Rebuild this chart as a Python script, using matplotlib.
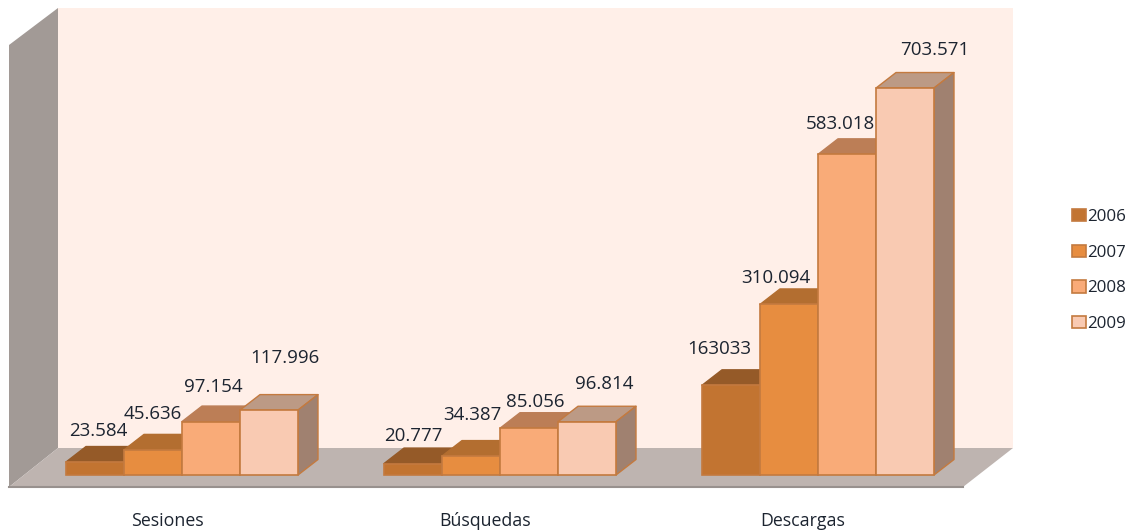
import numpy as np
import matplotlib
matplotlib.use('Agg')
import matplotlib.pyplot as plt
from matplotlib.patches import Polygon, Patch

plt.rcParams['font.family'] = ['Open Sans', 'DejaVu Sans']

categories = ['Sesiones', 'Búsquedas', 'Descargas']
years = ['2006', '2007', '2008', '2009']
v2006 = [23584, 20777, 163033]
v2007 = [45636, 34387, 310094]
v2008 = [97154, 85056, 583018]
v2009 = [117996, 96814, 703571]
labels2006 = ['23.584', '20.777', '163033']
labels2007 = ['45.636', '34.387', '310.094']
labels2008 = ['97.154', '85.056', '583.018']
labels2009 = ['117.996', '96.814', '703.571']

front = ['#C27431', '#E78D40', '#F9AB78', '#F9CAB2']
top = ['#955A28', '#B36E30', '#BC7E56', '#BC9A85']
side = ['#8F5A2A', '#A8682F', '#A87C62', '#A08170']
edge = '#C47A3F'

# label offsets from the middle of each bar top, px (series, then category)
label_dx = [[3, 0, -12], [0, 1, -13], [2, 6, -7], [16, 17, 30]]
label_dy = [[31, 28, 36], [36, 41, 26], [35, 26, 30], [52, 38, 38]]

W, H = 1132, 532
BASE_PX = 475      # pixel row of value 0
PX_PER_UNIT = 0.00055
GROUP_PX = 318     # pixels per category
FIRST_PX = 182     # pixel column of first category
BAR = 58 / GROUP_PX
DX = 20 / GROUP_PX
DY = 15.5 / PX_PER_UNIT


def px_x(p):
    return (p - FIRST_PX) / GROUP_PX


def px_y(p):
    return (BASE_PX - p) / PX_PER_UNIT


fig = plt.figure(figsize=(W / 100, H / 100), dpi=100)
ax = fig.add_axes([0, 0, 1, 1])
ax.set_xlim(px_x(0), px_x(W))
ax.set_ylim(px_y(H), px_y(0))
ax.axis('off')

# walls and floor
ax.add_patch(Polygon([(px_x(58), px_y(8)), (px_x(1013), px_y(8)), (px_x(1013), px_y(448)), (px_x(58), px_y(448))],
                     fc='#FFEFE8', ec='none', zorder=1))
ax.add_patch(Polygon([(px_x(9), px_y(45)), (px_x(58), px_y(8)), (px_x(58), px_y(448)), (px_x(9), px_y(487))],
                     fc='#A29A96', ec='none', zorder=1))
ax.add_patch(Polygon([(px_x(58), px_y(448)), (px_x(1013), px_y(448)), (px_x(963), px_y(487)), (px_x(9), px_y(487))],
                     fc='#BEB4B0', ec='none', zorder=1))
ax.plot([px_x(9), px_x(963)], [px_y(487), px_y(487)], color='#98918E', lw=1.5, zorder=1)

series = [v2006, v2007, v2008, v2009]
texts = [labels2006, labels2007, labels2008, labels2009]
pos = np.arange(len(categories))
handles = []
for i, vals in enumerate(series):
    xs = pos + (i - 1.5) * BAR
    z = 2 + i
    top_edge = edge if i == 3 else top[i]
    for x, v in zip(xs, vals):
        l, r = x - BAR / 2, x + BAR / 2
        ax.add_patch(Polygon([(l, v), (r, v), (r + DX, v + DY), (l + DX, v + DY)],
                             fc=top[i], ec=top_edge, lw=1.0, joinstyle='round', zorder=z))
        ax.add_patch(Polygon([(r, 0), (r + DX, DY), (r + DX, v + DY), (r, v)],
                             fc=side[i], ec=edge, lw=1.0, joinstyle='round', zorder=z))
    ax.bar(xs, vals, BAR, color=front[i], edgecolor=edge, linewidth=1.2, zorder=z + 0.5)
    for j, (x, v) in enumerate(zip(xs, vals)):
        ax.annotate(texts[i][j], (x, v), xytext=(label_dx[i][j] * 0.72, label_dy[i][j] * 0.72),
                    textcoords='offset points', ha='center', va='center',
                    fontsize=13.5, color='#1C2430', zorder=10)
    handles.append(Patch(fc=front[i], ec=edge, lw=1.2, label=years[i]))

for x, name in zip(pos, categories):
    ax.text(x - 15 / GROUP_PX, px_y(521), name, ha='center', va='center', fontsize=12.8, color='#1C2430')

ax.legend(handles=handles, loc='center left', bbox_to_anchor=(1072 / W, 1 - 270.5 / H), frameon=False,
          fontsize=12.2, handlelength=0.8, handleheight=0.75, handletextpad=0.08,
          labelspacing=1.15, borderpad=0, borderaxespad=0, labelcolor='#1C2430')

fig.savefig('out.png', dpi=100)
